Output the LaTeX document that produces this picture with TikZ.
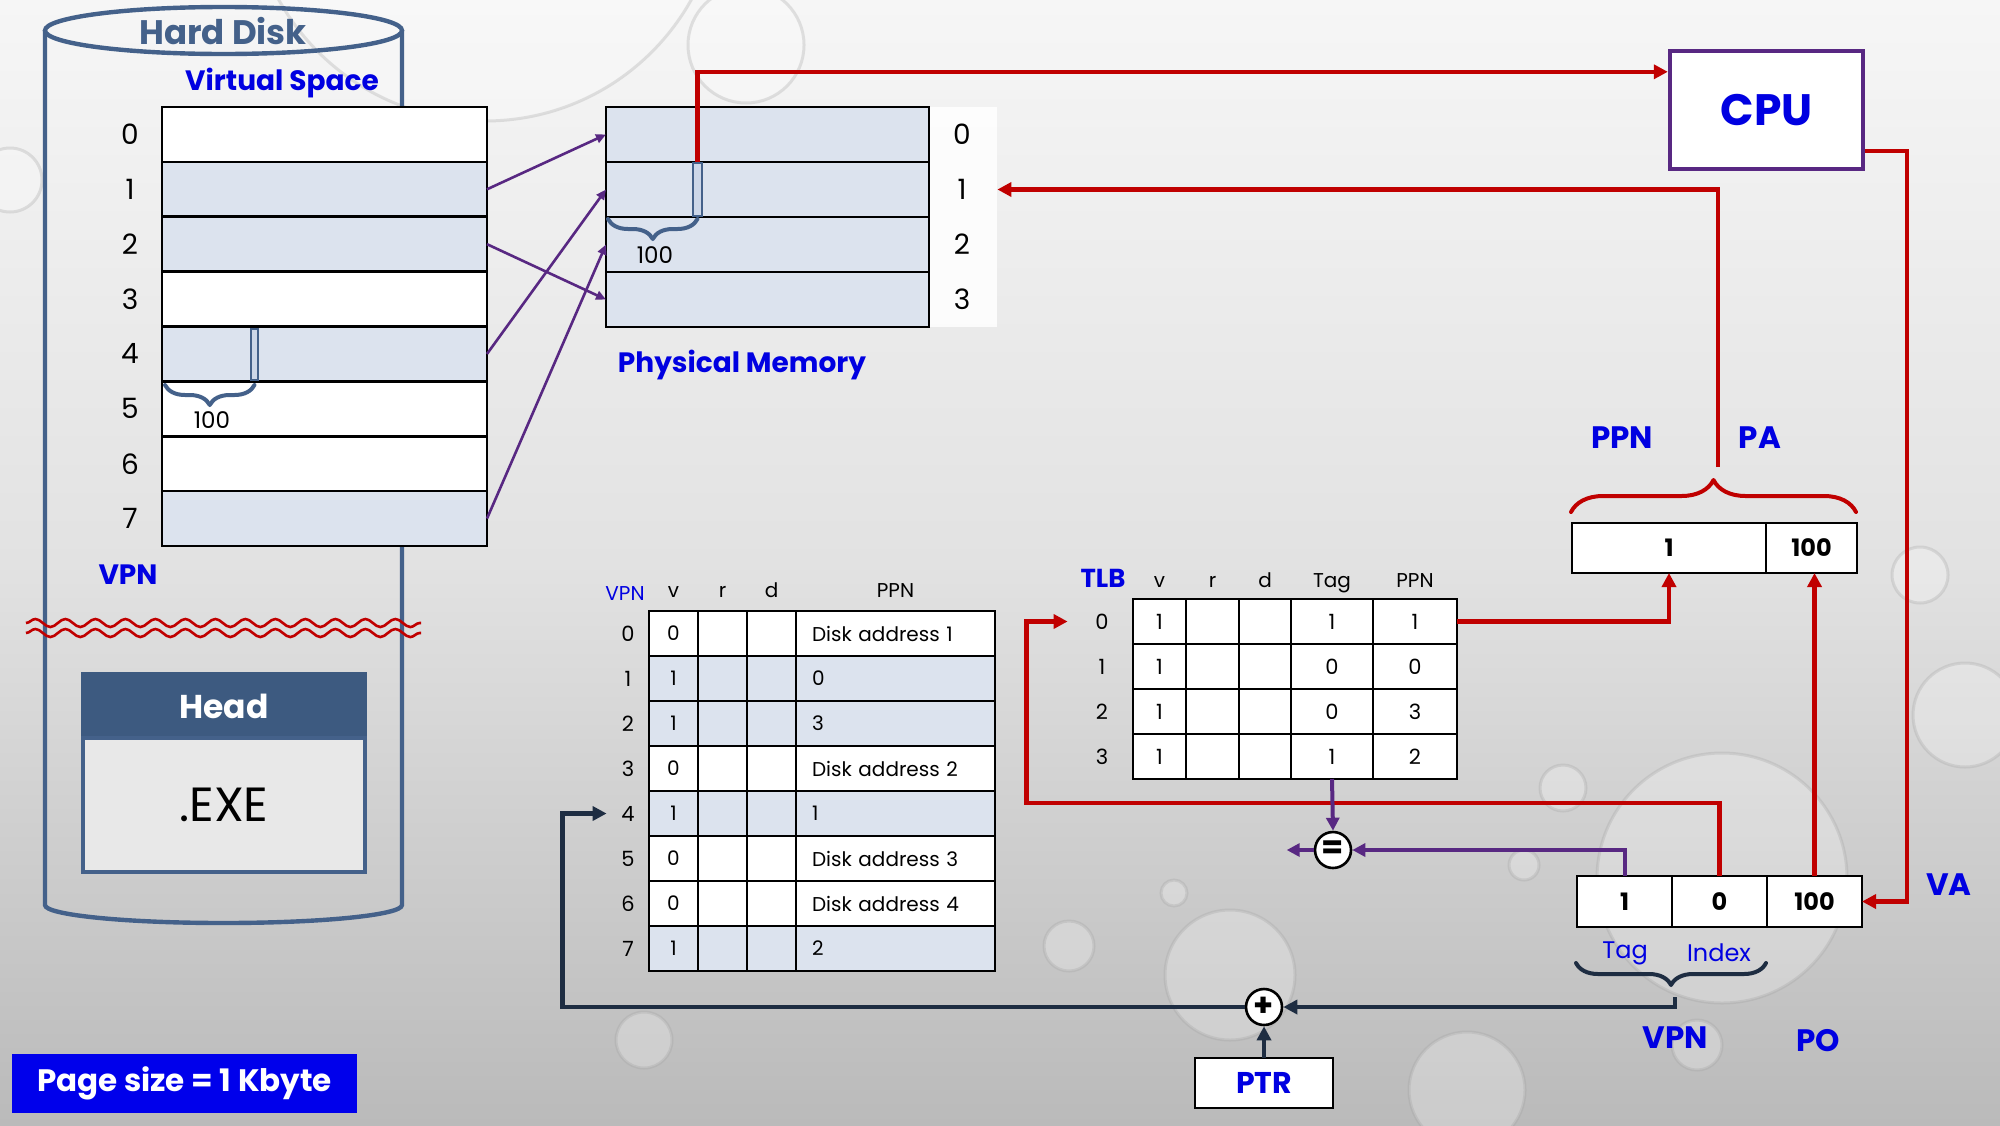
\documentclass[tikz,border=0pt]{standalone}
\usepackage{fontspec}
\setmainfont{Poppins}
\usetikzlibrary{arrows.meta,calc,decorations.pathreplacing,decorations.pathmorphing}
\newcommand{\myfs}[1]{\fontsize{#1}{#1}\selectfont}
\definecolor{steel}{RGB}{68,97,138}
\definecolor{headblue}{RGB}{61,90,128}
\definecolor{lightrow}{RGB}{220,227,238}
\definecolor{barfill}{RGB}{205,215,232}
\definecolor{redc}{RGB}{192,0,0}
\definecolor{purp}{RGB}{88,40,130}
\definecolor{navy}{RGB}{30,45,66}
\definecolor{txtblue}{RGB}{0,0,225}
\definecolor{boxblue}{RGB}{0,0,235}
\definecolor{exegray}{RGB}{232,232,232}
\definecolor{bgtop}{RGB}{246,246,246}
\definecolor{bgmid}{RGB}{226,226,226}
\definecolor{bgbot}{RGB}{186,186,186}
\begin{document}
\begin{tikzpicture}[x=0.5pt,y=-0.5pt,
  cellbase/.style={draw=black,line width=1.3pt,inner sep=0pt,outer sep=0pt},
  vsrow/.style={cellbase,minimum width=162.5pt,minimum height=27.44pt},
  pmrow/.style={cellbase,fill=lightrow,minimum width=161.5pt,minimum height=27.5pt},
  biglab/.style={font=\myfs{14},inner sep=0pt},
  smalllab/.style={font=\myfs{11.5},inner sep=0pt},
  tcell/.style={cellbase,minimum height=22.5pt,font=\myfs{10}},
  tlab/.style={font=\myfs{10},inner sep=0pt},
  rowlab/.style={font=\myfs{10.5},inner sep=0pt},
  valcell/.style={cellbase,fill=white,font=\myfs{12}\bfseries},
  bluebold/.style={text=txtblue,font=\myfs{15.5}\bfseries,inner sep=0pt},
  bluereg/.style={text=txtblue,font=\myfs{12},inner sep=0pt},
  redpath/.style={draw=redc,line width=2.2pt},
  redarrow/.style={redpath,-{Triangle[length=7pt,width=7pt]}},
  purpath/.style={draw=purp,line width=2pt},
  purarrow/.style={purpath,-{Triangle[length=6.5pt,width=6.5pt]}},
  thinpur/.style={draw=purp,line width=1.3pt,-{Triangle[length=5pt,width=4.5pt]}},
  navypath/.style={draw=navy,line width=2.2pt},
  navyarrow/.style={navypath,-{Triangle[length=7pt,width=7pt]}},
  bracebase/.style={decorate,line width=2pt,line cap=round,line join=round},
  opcirc/.style={circle,draw=black,line width=1.3pt,fill=white,minimum size=18pt,inner sep=0pt,font=\myfs{16}\bfseries},
  barstyle/.style={draw=steel,line width=1pt,fill=barfill,inner sep=0pt},
  disk/.style={draw=steel,line width=2.2pt},
  drop/.style={fill=white,fill opacity=0.25,draw=gray!75,draw opacity=0.28,line width=1.5pt}
]
% background
\shade[top color=bgtop,bottom color=bgbot,middle color=bgmid] (0,0) rectangle (2000,1125);
\useasboundingbox (0,0) rectangle (2000,1125);
% water drops
\begin{scope}
\clip (0,0) rectangle (2000,1125);
\path[drop] (485,-115) circle[radius=236];
\path[drop] (746,45) circle[radius=58];
\path[drop] (10,180) circle[radius=32];
\path[drop] (1920,575) circle[radius=28];
\path[drop] (1965,715) circle[radius=52];
\path[drop] (1563,788) circle[radius=23];
\path[drop] (1524,865) circle[radius=15];
\path[drop] (1174,893) circle[radius=13];
\path[drop] (1069,946) circle[radius=25];
\path[drop] (644,1040) circle[radius=28];
\path[drop] (1230,975) circle[radius=65];
\path[drop] (1697,1045) circle[radius=25];
\path[drop] (1467,1090) circle[radius=58];
\path[drop] (1722,878) circle[radius=125];
\end{scope}

% hard disk cylinder
\draw[disk] (45,30.5) -- (45,905) arc[start angle=180,end angle=0,x radius=178.5,y radius=18] -- (402,30.5);
\draw[disk] (223.5,30.5) ellipse[x radius=178.5,y radius=23.5];
\node[font=\myfs{17}\bfseries,text=steel,inner sep=0pt] (hdtitle) at (223,31) {Hard Disk};

% virtual space
\node[text=txtblue,font=\myfs{14}\bfseries,inner sep=0pt] (vstitle) at (282,83) {Virtual Space};
\foreach \i/\f in {0/white,1/lightrow,2/lightrow,3/white,4/lightrow,5/white,6/white,7/lightrow}{
  \node[vsrow,fill=\f] (vs\i) at (324.5,{107+54.875*(\i+0.5)}) {};
  \node[biglab] (vsl\i) at (130,{107+54.875*(\i+0.5)}) {\i};
}
\node[barstyle,minimum width=3.5pt,minimum height=25.5pt] (vsbar) at (254.5,354.5) {};
\draw[bracebase,steel,decoration={brace,amplitude=10pt}] ($(vsbar.south)+(0,4)$) -- ($(vs4.south west|-vsbar.south)+(3,4)$);
\node[smalllab] (vs100) at (212,420) {100};
\node[text=txtblue,font=\myfs{14}\bfseries,inner sep=0pt] (vsvpn) at (128,575) {VPN};

% break lines
\draw[redc,line width=1.3pt,decorate,decoration={snake,segment length=15pt,amplitude=2pt}] (26,623) -- (421,623);
\draw[redc,line width=1.3pt,decorate,decoration={snake,segment length=15pt,amplitude=2pt}] (26,633) -- (421,633);

% head / exe
\node[draw=headblue,fill=headblue,line width=2pt,minimum width=141pt,minimum height=32pt,inner sep=0pt,text=white,font=\myfs{16.5}\bfseries] (head) at (224,706) {Head};
\node[draw=steel,fill=exegray,line width=2pt,minimum width=141pt,minimum height=67pt,inner sep=0pt,font=\myfs{24}] (exe) at (224,805) {.EXE};

% page size
\node[fill=boxblue,text=white,font=\myfs{15.5}\bfseries,minimum width=172.5pt,minimum height=29.5pt,inner sep=0pt] (pgsize) at (184.5,1083.5) {Page size = 1 Kbyte};

% physical memory
\fill[white,opacity=0.85] (929,107) rectangle (997,327);
\foreach \i in {0,...,3}{
  \node[pmrow] (pm\i) at (767.5,{107+55*(\i+0.5)}) {};
  \node[biglab,minimum width=35pt] (pml\i) at (962,{107+55*(\i+0.5)}) {\i};
}
\node[barstyle,minimum width=4.5pt,minimum height=26.5pt] (pmbar) at (697.5,189.5) {};
\draw[bracebase,steel,decoration={brace,amplitude=10pt}] ($(pmbar.south)+(0,2)$) -- ($(pm1.south west|-pmbar.south)+(2,2)$);
\node[smalllab] (pm100) at (655,255) {100};
\node[text=txtblue,font=\myfs{14}\bfseries,inner sep=0pt] (pmtitle) at (742,365) {Physical Memory};

% VS -> PM
\draw[thinpur] (vs1.east) -- (pm0.west);
\draw[thinpur] (vs2.east) -- (pm3.west);
\draw[thinpur] (vs4.east) -- (pm1.west);
\draw[thinpur] (vs7.east) -- (pm2.west);

% CPU
\node[draw=purp,line width=2.2pt,fill=white,minimum width=96.5pt,minimum height=59pt,text=txtblue,font=\myfs{22}\bfseries,inner sep=0pt] (cpu) at (1766.5,110) {CPU};

% page table
\node[tlab,anchor=base,text=txtblue] (pth-vpn) at (625,600) {VPN};
\node[tlab,anchor=base] (pth-v) at (673.5,597) {v};
\node[tlab,anchor=base] (pth-r) at (722.5,597) {r};
\node[tlab,anchor=base] (pth-d) at (771.5,597) {d};
\node[tlab,anchor=base] (pth-p) at (895.5,597) {PPN};
\foreach \r/\v/\p/\f in {0/0/Disk address 1/white,1/1/0/lightrow,2/1/3/lightrow,3/0/Disk address 2/white,4/1/1/lightrow,5/0/Disk address 3/white,6/0/Disk address 4/white,7/1/2/lightrow}{
  \pgfmathsetmacro\yy{633.5+45*\r}
  \node[tcell,fill=\f,minimum width=24.5pt] (pt-\r-0) at (673.5,\yy) {\v};
  \node[tcell,fill=\f,minimum width=24.5pt] (pt-\r-1) at (722.5,\yy) {};
  \node[tcell,fill=\f,minimum width=24.5pt] (pt-\r-2) at (771.5,\yy) {};
  \node[tcell,fill=\f,text width=83.5pt,inner xsep=8pt,align=left] (pt-\r-3) at (895.5,\yy) {\p};
  \node[rowlab,minimum width=21pt] (ptl\r) at (628,\yy) {\r};
}

% TLB
\node[anchor=base,text=txtblue,font=\myfs{13}\bfseries,inner sep=0pt] (tlbh) at (1103,587) {TLB};
\node[tlab,anchor=base] (tlbh-v) at (1159.5,587) {v};
\node[tlab,anchor=base] (tlbh-r) at (1212.5,587) {r};
\node[tlab,anchor=base] (tlbh-d) at (1265,587) {d};
\node[tlab,anchor=base] (tlbh-t) at (1332,587) {Tag};
\node[tlab,anchor=base] (tlbh-p) at (1415,587) {PPN};
\foreach \r/\a/\b/\c in {0/1/1/1,1/1/0/0,2/1/0/3,3/1/1/2}{
  \pgfmathsetmacro\yy{621.5+45*\r}
  \node[tcell,fill=white,minimum width=26.5pt,font=\myfs{10.5}] (tlb-\r-0) at (1159.5,\yy) {\a};
  \node[tcell,fill=white,minimum width=26.5pt] (tlb-\r-1) at (1212.5,\yy) {};
  \node[tcell,fill=white,minimum width=26pt] (tlb-\r-2) at (1265,\yy) {};
  \node[tcell,fill=white,minimum width=41pt,font=\myfs{10.5}] (tlb-\r-3) at (1332,\yy) {\b};
  \node[tcell,fill=white,minimum width=42pt,font=\myfs{10.5}] (tlb-\r-4) at (1415,\yy) {\c};
  \node[rowlab,minimum width=34pt] (tlbl\r) at (1102,\yy) {\r};
}

% PA and VA registers
\node[valcell,minimum width=97pt,minimum height=25pt] (pa1) at (1669,548) {1};
\node[valcell,minimum width=45.5pt,minimum height=25pt] (pa2) at (1811.5,548) {100};
\node[valcell,minimum width=47.5pt,minimum height=25.5pt] (va1) at (1624.5,901.5) {1};
\node[valcell,minimum width=47.5pt,minimum height=25.5pt] (va2) at (1719.5,901.5) {0};
\node[valcell,minimum width=47.5pt,minimum height=25.5pt] (va3) at (1814.5,901.5) {100};

% operators and PTR
\node[opcirc] (eq) at (1333,850) {=};
\node[opcirc] (plus) at (1264,1007) {+};
\node[cellbase,fill=white,minimum width=69pt,minimum height=25pt,text=txtblue,font=\myfs{15}\bfseries] (ptr) at (1264,1083) {PTR};

% braces
\draw[bracebase,redc,decoration={brace,amplitude=16pt}] ($(pa1.north west)+(-1,-11)$) -- ($(pa2.north east)+(-1,-11)$);
\draw[bracebase,navy,decoration={brace,amplitude=11pt}] ($(va2.south east)+(-1,36)$) -- ($(va1.south west)+(-1,36)$);

% labels
\node[bluebold] (lppn) at (1622,438) {PPN};
\node[bluebold] (lpa) at (1760,438) {PA};
\node[bluebold] (lva) at (1949,885) {VA};
\node[bluebold] (lvpn) at (1675,1038) {VPN};
\node[bluebold] (lpo) at (1818,1041) {PO};
\node[bluereg] (ltag) at (1625,953) {Tag};
\node[bluereg] (lidx) at (1719,953) {Index};

% red connectors
\coordinate (cpuin) at ($(cpu.north west)+(0,23)$);
\draw[redarrow] (pmbar.north) |- (cpuin);
\coordinate (cpuout) at ($(cpu.south east)+(0,-20)$);
\draw[redarrow] (cpuout) -| ($(va3.east)+(45,0)$) -- (va3.east);
\coordinate (paup) at (1718,467);
\draw[redarrow] (paup) |- (pml1.east);
\draw[redarrow] (tlb-0-4.east) -| (pa1.south);
\draw[redarrow] (va3.north) -- (va3.north |- pa2.south);
\draw[redarrow] (va2.north) -- ++(0,-73) -| ($(tlbl0.west)+(-41,0)$) -- (tlbl0.west);

% purple connectors
\draw[purarrow] (va1.north) |- (eq.east);
\draw[purarrow] (tlb-3-3.south) -- (eq.north);
\coordinate (eqout) at ($(eq.west)+(-27,0)$);
\draw[purarrow] (eq.west) -- (eqout);

% navy connectors
\coordinate (vabrtip) at (1675,997);
\draw[navyarrow] (vabrtip) |- (plus.east);
\draw[navyarrow] (ptr.north) -- (plus.south);
\draw[navyarrow] (plus.west) -| ($(ptl4.west)+(-44,0)$) -- (ptl4.west);
\end{tikzpicture}
\end{document}
